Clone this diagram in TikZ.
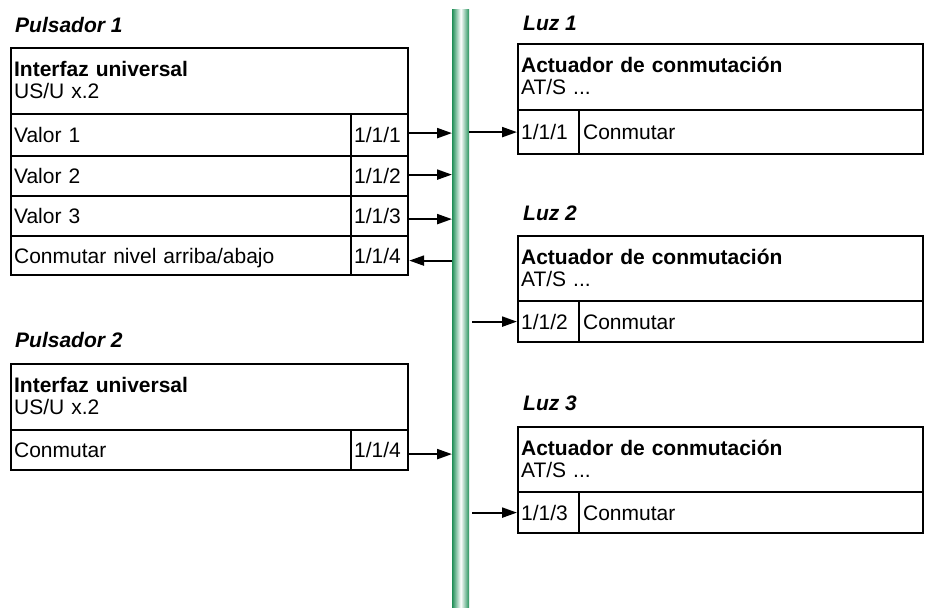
\documentclass[tikz,border=0pt]{standalone}
\usepackage{fontspec}
\setmainfont{Liberation Sans}
\usetikzlibrary{arrows.meta}
\definecolor{busgreen}{RGB}{35,145,90}
\begin{document}
\begin{tikzpicture}[x=1pt,y=-1pt,
  font=\fontsize{21}{22}\selectfont,
  cellbox/.style={draw, line width=2.2pt, anchor=north west, inner xsep=3pt, inner ysep=0pt,
    align=left, text height=15pt, text depth=0pt},
  headbox/.style={cellbox, text height=14pt, text depth=23pt, minimum height=#1},
  lbl/.style={anchor=base west, inner sep=0pt, font=\fontsize{21}{22}\selectfont\bfseries\itshape},
  arr/.style={line width=2.2pt, -{Triangle[length=15pt,width=10pt]}}]
\useasboundingbox (0,0) rectangle (930,608);

% bus
\node[anchor=north west, inner sep=0pt, minimum width=17pt, minimum height=599pt,
  left color=busgreen, right color=busgreen, middle color=white] (bus) at (452,9) {};

% Pulsador 1
\node[lbl] (p1) at (15,32) {Pulsador 1};
\node[headbox=66pt, text width=391pt] (h1) at (10,47) {\textbf{Interfaz universal}\\US/U x.2};
\node[cellbox, text width=334pt, minimum height=42pt] (v1) at (10,113) {Valor 1};
\node[cellbox, text width=51pt, minimum height=42pt] (a1) at (350,113) {1/1/1};
\node[cellbox, text width=334pt, minimum height=40pt] (v2) at (10,155) {Valor 2};
\node[cellbox, text width=51pt, minimum height=40pt] (a2) at (350,155) {1/1/2};
\node[cellbox, text width=334pt, minimum height=40pt] (v3) at (10,195) {Valor 3};
\node[cellbox, text width=51pt, minimum height=40pt] (a3) at (350,195) {1/1/3};
\node[cellbox, text width=334pt, minimum height=39pt] (v4) at (10,235) {Conmutar nivel arriba/abajo};
\node[cellbox, text width=51pt, minimum height=39pt] (a4) at (350,235) {1/1/4};

% Pulsador 2
\node[lbl] (p2) at (15,347) {Pulsador 2};
\node[headbox=66pt, text width=391pt] (h2) at (10,363) {\textbf{Interfaz universal}\\US/U x.2};
\node[cellbox, text width=334pt, minimum height=40pt] (w1) at (10,429) {Conmutar};
\node[cellbox, text width=51pt, minimum height=40pt] (b1) at (350,429) {1/1/4};

% Luz 1
\node[lbl] (l1) at (523,30) {Luz 1};
\node[headbox=66pt, text width=399pt] (k1) at (517,43) {\textbf{Actuador de conmutación}\\AT/S ...};
\node[cellbox, text width=55pt, minimum height=44pt] (r1) at (517,109) {1/1/1};
\node[cellbox, inner xsep=4pt, text width=336pt, minimum height=44pt] (s1) at (578,109) {Conmutar};

% Luz 2
\node[lbl] (l2) at (523,220) {Luz 2};
\node[headbox=65pt, text width=399pt] (k2) at (517,235) {\textbf{Actuador de conmutación}\\AT/S ...};
\node[cellbox, text width=55pt, minimum height=41pt] (r2) at (517,300) {1/1/2};
\node[cellbox, inner xsep=4pt, text width=336pt, minimum height=41pt] (s2) at (578,300) {Conmutar};

% Luz 3
\node[lbl] (l3) at (523,410) {Luz 3};
\node[headbox=65pt, text width=399pt] (k3) at (517,426) {\textbf{Actuador de conmutación}\\AT/S ...};
\node[cellbox, text width=55pt, minimum height=41pt] (r3) at (517,491) {1/1/3};
\node[cellbox, inner xsep=4pt, text width=336pt, minimum height=41pt] (s3) at (578,491) {Conmutar};

% connectors
\draw[arr] ([yshift=2pt]a1.east) -- ([yshift=2pt]a1.east -| bus.west);
\draw[arr] ([yshift=1.5pt]a2.east) -- ([yshift=1.5pt]a2.east -| bus.west);
\draw[arr] ([yshift=-3pt]a3.east) -- ([yshift=-3pt]a3.east -| bus.west);
\draw[arr] ([yshift=-5pt]a4.east -| bus.west) -- ([yshift=-5pt]a4.east);
\draw[arr] ([yshift=-4pt]b1.east) -- ([yshift=-4pt]b1.east -| bus.west);
\draw[arr] (r1.west -| bus.east) -- (r1.west);
\draw[arr] ([xshift=3pt]r2.west -| bus.east) -- (r2.west);
\draw[arr] ([xshift=3pt]r3.west -| bus.east) -- (r3.west);
\end{tikzpicture}
\end{document}
